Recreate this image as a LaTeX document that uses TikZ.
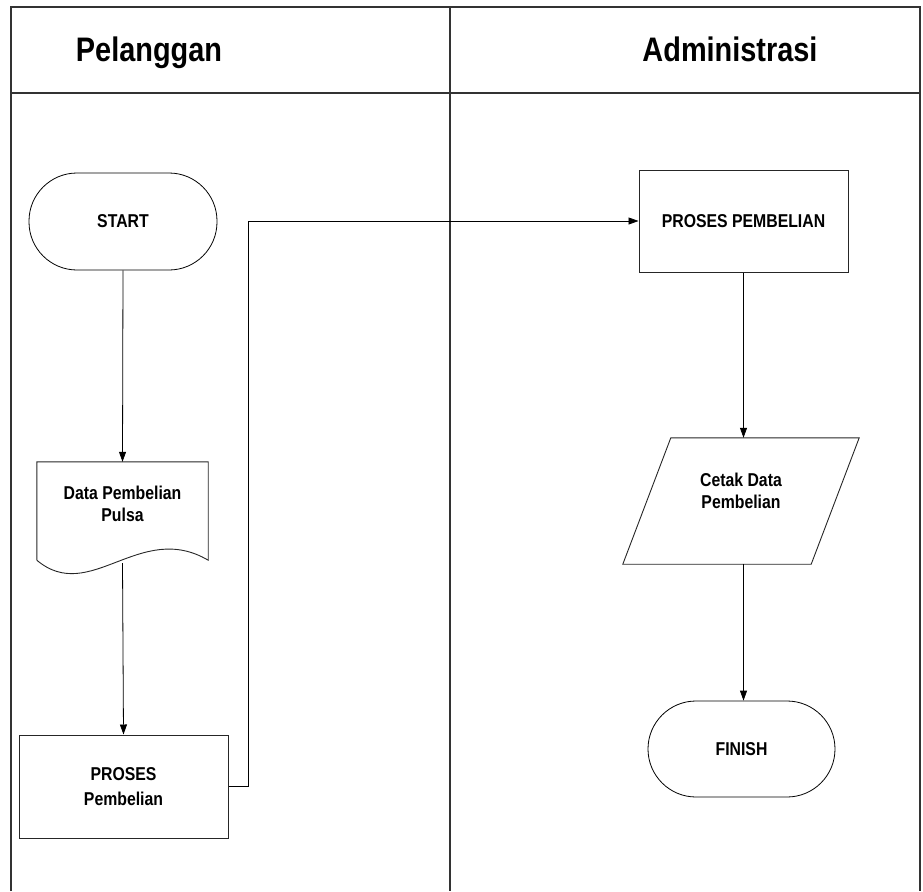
\documentclass[tikz,border=0pt]{standalone}
\usepackage{fontspec}
\setmainfont[FakeStretch=0.85]{Liberation Sans}
\usetikzlibrary{arrows.meta}

\tikzset{
  lane/.style={line width=1.2pt, draw=black!80},
  lanetitle/.style={font=\fontsize{34}{40}\selectfont\bfseries, anchor=base, inner sep=0pt},
  boxtext/.style={font=\fontsize{18.6}{22}\selectfont\bfseries, align=center},
  terminal/.style={boxtext, draw, line width=0.8pt, rounded corners=48pt,
                   minimum width=188pt, minimum height=97pt},
  procbox/.style={boxtext, draw, line width=1pt, draw=black!85},
  hidden/.style={boxtext, draw=none, inner sep=0pt},
  outline/.style={line width=0.9pt, draw=black!85},
  flow/.style={line width=0.8pt, -{Triangle[length=10pt,width=7pt]}},
  plain/.style={line width=0.8pt}
}

\begin{document}
\begin{tikzpicture}[x=1pt, y=-1pt]
  \useasboundingbox (0,0) rectangle (923,891);

  % swimlane frame
  \draw[lane] (11,891) -- (11,7) -- (920,7) -- (920,891);
  \draw[lane] (11,93) -- (920,93);
  \draw[lane] (450,7) -- (450,891);
  \node[lanetitle] (laneA) at (149,62) {Pelanggan};
  \node[lanetitle] (laneB) at (730,62) {Administrasi};

  % left lane
  \node[terminal] (start) at (123,221.5) {START};

  \node[hidden, minimum width=171pt, minimum height=84pt] (doc) at (122.5,504) {Data Pembelian\\Pulsa};
  \draw[outline] ([yshift=-14pt]doc.south west) -- (doc.north west) -- (doc.north east)
    -- ([yshift=-14pt]doc.south east)
    .. controls (140,520) and (90,605) .. ([yshift=-14pt]doc.south west);
  \coordinate (docout) at ([yshift=-17pt]doc.south);

  \node[procbox, minimum width=209pt, minimum height=103pt,
        font=\fontsize{18.6}{25}\selectfont\bfseries] (proses) at (123.5,786.5) {PROSES\\Pembelian};

  % right lane
  \node[procbox, minimum width=209pt, minimum height=102pt] (pembelian) at (743.5,221) {PROSES PEMBELIAN};

  \node[hidden, minimum width=188pt, minimum height=126pt,
        label={[boxtext, yshift=10pt]center:Cetak Data\\Pembelian}] (cetak) at (741,501) {};
  \draw[outline] ([xshift=24pt]cetak.north west) -- ([xshift=24pt]cetak.north east)
    -- ([xshift=-24pt]cetak.south east) -- ([xshift=-24pt]cetak.south west) -- cycle;

  \node[terminal, minimum width=187pt, minimum height=96pt] (finish) at (741.5,749) {FINISH};

  % connectors
  \draw[flow] (start.south) -- (doc.north);
  \draw[flow] (docout) -- (proses.north);
  \draw[flow] (proses.east) -- ++(20,0) |- (pembelian.west);
  \draw[flow] (pembelian.south) -- (pembelian.south |- cetak.north);
  \draw[flow] (pembelian.south |- cetak.south) -- (pembelian.south |- finish.north);
\end{tikzpicture}
\end{document}
